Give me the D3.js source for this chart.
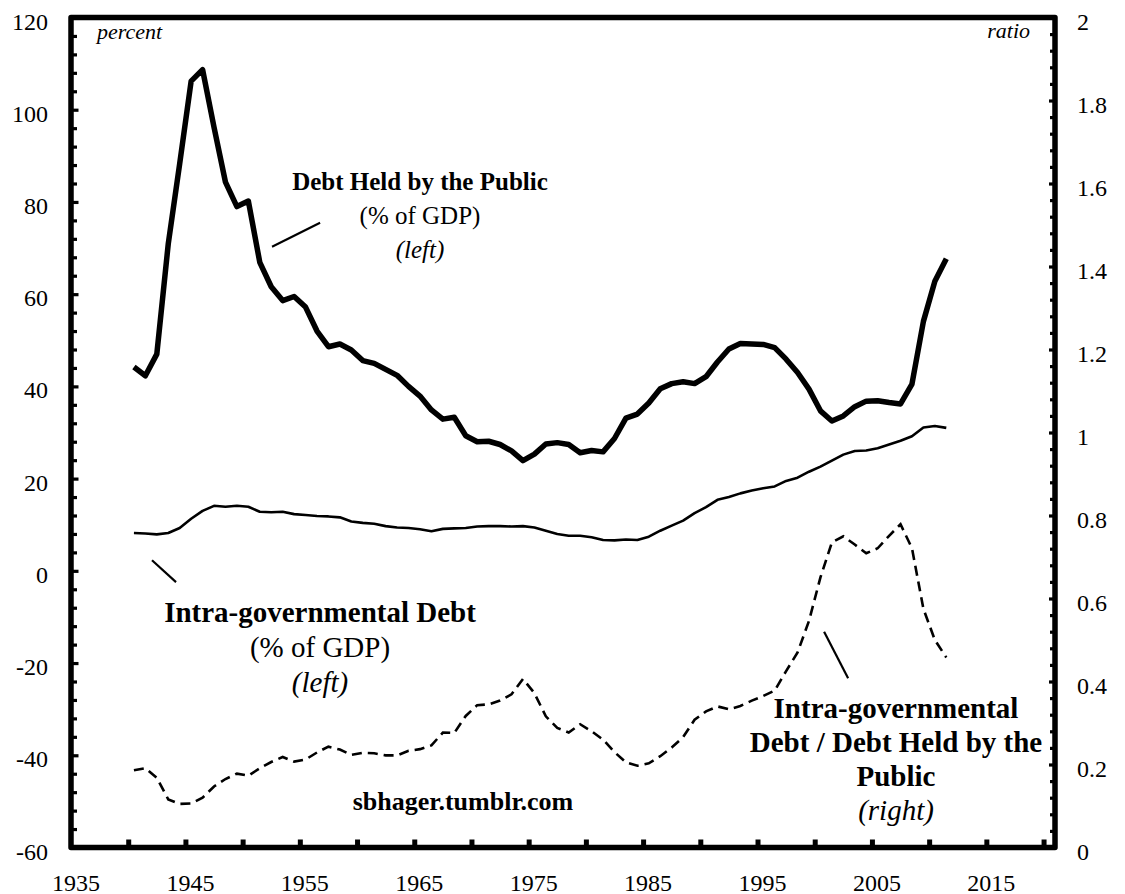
<!DOCTYPE html>
<html>
<head>
<meta charset="utf-8">
<script src="https://cdn.jsdelivr.net/npm/d3@7"></script>
<style>
  html, body { margin: 0; padding: 0; background: #fff; }
  svg { display: block; }
  text { font-family: "Liberation Serif", "Times New Roman", serif; fill: #000; }
</style>
</head>
<body>
<svg id="chart" width="1125" height="894"></svg>
<script>
// ---------------- DATA ----------------
const years = [1940,1941,1942,1943,1944,1945,1946,1947,1948,1949,
  1950,1951,1952,1953,1954,1955,1956,1957,1958,1959,
  1960,1961,1962,1963,1964,1965,1966,1967,1968,1969,
  1970,1971,1972,1973,1974,1975,1976,1977,1978,1979,
  1980,1981,1982,1983,1984,1985,1986,1987,1988,1989,
  1990,1991,1992,1993,1994,1995,1996,1997,1998,1999,
  2000,2001,2002,2003,2004,2005,2006,2007,2008,2009,
  2010,2011];

// Debt held by the public, % of GDP (left axis)
const publicDebt = [44.2,42.3,47.0,70.9,88.3,106.2,108.7,96.2,84.3,79.0,
  80.2,66.9,61.6,58.6,59.5,57.2,52.0,48.6,49.2,47.9,
  45.6,45.0,43.7,42.4,40.0,37.9,34.9,32.9,33.3,29.3,
  28.0,28.1,27.4,26.0,23.9,25.3,27.5,27.8,27.4,25.6,
  26.1,25.8,28.7,33.1,34.0,36.4,39.5,40.6,41.0,40.6,
  42.1,45.3,48.1,49.3,49.2,49.1,48.4,45.9,43.0,39.4,
  34.7,32.5,33.6,35.6,36.8,36.9,36.5,36.2,40.5,54.1,
  62.8,67.7];

// Intra-governmental debt, % of GDP (left axis)
const intraDebt = [8.2,8.1,7.9,8.2,9.3,11.3,13.0,14.1,13.9,14.1,
  13.9,12.8,12.7,12.8,12.3,12.1,11.9,11.8,11.6,10.7,
  10.4,10.2,9.7,9.4,9.3,9.0,8.6,9.1,9.2,9.3,
  9.6,9.7,9.7,9.6,9.7,9.4,8.7,8.0,7.6,7.6,
  7.3,6.7,6.6,6.8,6.7,7.4,8.7,9.8,10.9,12.5,
  13.8,15.4,16.0,16.8,17.4,17.9,18.3,19.5,20.2,21.5,
  22.6,23.9,25.2,26.0,26.1,26.6,27.4,28.2,29.2,31.1,
  31.4,31.0];

// Intra-governmental debt / debt held by the public (right axis)
const ratio = [0.186,0.191,0.168,0.116,0.105,0.106,0.120,0.147,0.165,0.178,
  0.173,0.191,0.206,0.218,0.207,0.212,0.229,0.243,0.236,0.223,
  0.228,0.227,0.222,0.222,0.233,0.237,0.246,0.277,0.276,0.317,
  0.343,0.345,0.354,0.369,0.406,0.372,0.316,0.288,0.277,0.297,
  0.280,0.260,0.230,0.205,0.197,0.203,0.220,0.241,0.266,0.308,
  0.328,0.340,0.333,0.341,0.354,0.365,0.378,0.425,0.470,0.546,
  0.651,0.735,0.750,0.730,0.709,0.721,0.751,0.779,0.721,0.575,
  0.500,0.458];

const xTickYears = [1935,1945,1955,1965,1975,1985,1995,2005,2015];
const leftTicks = [-60,-40,-20,0,20,40,60,80,100,120];
const rightTicks = [0,0.2,0.4,0.6,0.8,1,1.2,1.4,1.6,1.8,2];

// ---------------- LAYOUT ----------------
const svg = d3.select("#chart");
const L = 71, R = 1055, T = 17.5, B = 847.5;

const x = d3.scaleLinear().domain([1935, 2021]).range([L, R]);
const yL = d3.scaleLinear().domain([-60, 120]).range([B, T]);
const yR = d3.scaleLinear().domain([0, 2]).range([B, T]);
const xMid = d => x(d + 0.5);

// minor ticks
const leftMinor = d3.range(-60, 120.01, 4);
const rightMinor = d3.range(0, 2.001, 0.04);
const xMinor = d3.range(1940, 2021, 5);

// left axis ticks (inside)
const gL = svg.append("g").attr("transform", `translate(${L},0)`)
  .call(d3.axisRight(yL).tickValues(leftMinor).tickSize(6).tickFormat(""));
gL.select(".domain").remove();
gL.selectAll(".tick line").attr("stroke", "#000").attr("stroke-width", 3.2)
  .attr("x2", d => (Math.abs(d % 20) < 1e-6 ? 7.5 : 6));

const gR = svg.append("g").attr("transform", `translate(${R},0)`)
  .call(d3.axisLeft(yR).tickValues(rightMinor).tickSize(5).tickFormat(""));
gR.select(".domain").remove();
gR.selectAll(".tick line").attr("stroke", "#000").attr("stroke-width", 3.2)
  .attr("x2", d => (Math.abs(Math.round(d * 100) % 20) < 1e-6 ? -6 : -5));

const gX = svg.append("g").attr("transform", `translate(0,${B})`)
  .call(d3.axisTop(x).tickValues(xMinor).tickSize(8).tickFormat(""));
gX.select(".domain").remove();
gX.selectAll(".tick line").attr("stroke", "#000").attr("stroke-width", 5);

// frame
svg.append("rect").attr("x", L).attr("y", T).attr("width", R - L).attr("height", B - T)
  .attr("fill", "none").attr("stroke", "#000").attr("stroke-width", 5.5)
  .attr("stroke-linejoin", "round");

// tick labels
svg.append("g").selectAll("text").data(leftTicks).join("text")
  .attr("x", L - 23).attr("y", d => yL(d) + 12)
  .attr("text-anchor", "end").attr("font-size", 24).text(d => d);

svg.append("g").selectAll("text").data(rightTicks).join("text")
  .attr("x", R + 22).attr("y", d => yR(d) + 12)
  .attr("text-anchor", "start").attr("font-size", 24).text(d => d);

svg.append("g").selectAll("text").data(xTickYears).join("text")
  .attr("x", d => x(d) + 5).attr("y", B + 43)
  .attr("text-anchor", "middle").attr("font-size", 24).text(d => d);

svg.append("text").attr("x", 97).attr("y", 39).attr("font-size", 22)
  .attr("font-style", "italic").text("percent");
svg.append("text").attr("x", 1030).attr("y", 38).attr("font-size", 22)
  .attr("font-style", "italic").attr("text-anchor", "end").text("ratio");

// ---------------- SERIES ----------------
const rows = years.map((yr, i) => ({ yr, pub: publicDebt[i], intra: intraDebt[i], ratio: ratio[i] }));

svg.append("path").datum(rows)
  .attr("fill", "none").attr("stroke", "#000").attr("stroke-width", 5.5)
  .attr("stroke-linejoin", "round")
  .attr("d", d3.line().x(d => xMid(d.yr)).y(d => yL(d.pub)));

svg.append("path").datum(rows)
  .attr("fill", "none").attr("stroke", "#000").attr("stroke-width", 2.6)
  .attr("stroke-linejoin", "round")
  .attr("d", d3.line().x(d => xMid(d.yr)).y(d => yL(d.intra)));

svg.append("path").datum(rows)
  .attr("fill", "none").attr("stroke", "#000").attr("stroke-width", 2.6)
  .attr("stroke-dasharray", "10,6")
  .attr("d", d3.line().x(d => xMid(d.yr)).y(d => yR(d.ratio)));

// ---------------- ANNOTATIONS ----------------
const leaders = [
  [[1952.57, 70.3], [1956.77, 75.5]],
  [[1942.08, 2.3], [1944.18, -2.45]],
  [[2000.82, -13.2], [2002.92, -23.3]]
];
svg.append("g").selectAll("line").data(leaders).join("line")
  .attr("x1", d => x(d[0][0])).attr("y1", d => yL(d[0][1]))
  .attr("x2", d => x(d[1][0])).attr("y2", d => yL(d[1][1]))
  .attr("stroke", "#000").attr("stroke-width", 2.2);

function label(cx, lines, size) {
  const g = svg.append("g");
  lines.forEach(l => {
    g.append("text").attr("x", cx).attr("y", l.y).attr("text-anchor", "middle")
      .attr("font-size", size)
      .attr("font-weight", l.bold ? "bold" : "normal")
      .attr("font-style", l.italic ? "italic" : "normal")
      .text(l.t);
  });
}

label(420, [
  { t: "Debt Held by the Public", y: 190, bold: true },
  { t: "(% of GDP)", y: 224 },
  { t: "(left)", y: 258, italic: true }
], 25);

label(320, [
  { t: "Intra-governmental Debt", y: 622, bold: true },
  { t: "(% of GDP)", y: 657 },
  { t: "(left)", y: 692, italic: true }
], 29);

label(896, [
  { t: "Intra-governmental", y: 718, bold: true },
  { t: "Debt / Debt Held by the", y: 752, bold: true },
  { t: "Public", y: 786, bold: true },
  { t: "(right)", y: 820, italic: true }
], 29);

svg.append("text").attr("x", 463).attr("y", 810).attr("text-anchor", "middle")
  .attr("font-size", 26).attr("font-weight", "bold").text("sbhager.tumblr.com");
</script>
</body>
</html>
